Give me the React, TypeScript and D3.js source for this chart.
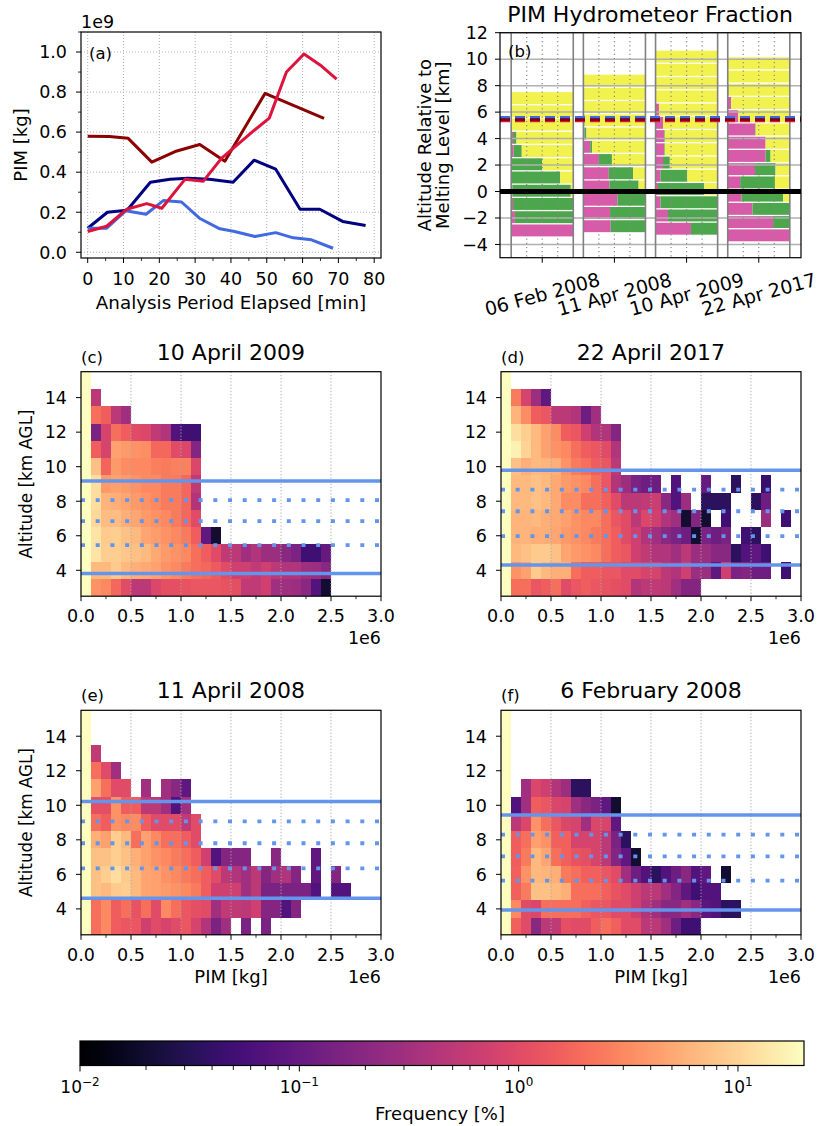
import React, { useEffect, useRef } from "react";
import * as d3 from "d3";

const FONT = "'DejaVu Sans', Verdana, sans-serif";

// ---------------- (a) PIM time series ----------------
const darkRedMinutes = [0, 6, 11.3, 17.9, 24.4, 31.3, 38.3, 49.5, 66];
const darkRedPim = [5.8e8, 5.78e8, 5.69e8, 4.5e8, 5.03e8, 5.38e8, 4.55e8, 7.93e8, 6.69e8];
const crimsonMinutes = [0, 5.3, 10.9, 16.5, 20.7, 27.2, 32.3, 37.4, 40.7, 46.7, 50.7, 55.5, 60.4, 65.3, 69.5];
const crimsonPim = [1.04e8, 1.3e8, 2.15e8, 2.43e8, 2.2e8, 3.65e8, 3.55e8, 4.7e8, 5.2e8, 6.12e8, 6.7e8, 9.0e8, 9.9e8, 9.3e8, 8.65e8];
const navyMinutes = [0, 5.5, 11, 17.5, 23, 28, 34, 40.6, 46.5, 52.5, 59.3, 64.8, 71.2, 77.6];
const navyPim = [1.2e8, 2.0e8, 2.1e8, 3.5e8, 3.65e8, 3.7e8, 3.65e8, 3.5e8, 4.6e8, 4.15e8, 2.15e8, 2.15e8, 1.54e8, 1.34e8];
const royalMinutes = [0, 5.3, 10.6, 16.3, 21.1, 26.2, 31.2, 36.9, 40.7, 46.7, 52.5, 57.4, 62.5, 68.5];
const royalPim = [1.2e8, 1.2e8, 2.07e8, 1.9e8, 2.58e8, 2.51e8, 1.7e8, 1.17e8, 1.05e8, 0.79e8, 0.98e8, 0.72e8, 0.62e8, 0.2e8];

// ---------------- (b) hydrometeor fraction ----------------
const caseLabels = ["06 Feb 2008", "11 Apr 2008", "10 Apr 2009", "22 Apr 2017"];
const meltingLevelKm = [3.94, 4.62, 3.81, 4.31];
const firstBinKm = [1, 2, 1, 1];
const freezeLevelRelKm = [5.52, 5.62, 5.33, 5.42];
const caseColors = ["#000080", "#4169e1", "#dc143c", "#8b0000"];
const pinkFeb08 = [1.0, 0.06, 0.03, 0.02, 0, 0, 0.04, 0.03, 0, 0, 0];
const greenFeb08 = [0, 0.94, 0.97, 0.94, 0.79, 0.5, 0.13, 0.055, 0, 0, 0];
const pinkApr08 = [0.44, 0.43, 0.55, 0.42, 0.41, 0.25, 0.11, 0.02, 0.01, 0, 0, 0];
const greenApr08 = [0.56, 0.57, 0.45, 0.47, 0.39, 0.21, 0.03, 0.03, 0.01, 0, 0, 0];
const pinkApr09 = [0.57, 0.2, 0.08, 0.04, 0.08, 0.12, 0.14, 0.14, 0.12, 0.055, 0.01, 0, 0, 0];
const greenApr09 = [0.43, 0.8, 0.92, 0.74, 0.43, 0.11, 0.01, 0.01, 0, 0, 0, 0, 0, 0];
const pinkApr17 = [1.0, 0.73, 0.4, 0.22, 0.2, 0.44, 0.61, 0.61, 0.44, 0.17, 0.055, 0, 0, 0];
const greenApr17 = [0, 0.27, 0.6, 0.67, 0.56, 0.33, 0.08, 0, 0.01, 0, 0, 0.015, 0, 0];

// ---------------- (c)-(f) frequency [%] rows, km 3..15, columns of 0.1e6 kg ----------------
const freqApr09 = [
  [40, 3.5, 3, 1.8, 1.0, 0.5, 0.5, 0.9, 1.1, 1.1, 1.2, 1.3, 1.3, 1.3, 1.2, 1.1, 0.55, 0.55, 0.7, 0.3, 0.3, 0.28, 0.2, 0.07, 0.02],
  [40, 6.5, 6.5, 8.5, 6.5, 5.5, 5, 4.5, 3.5, 3, 2.5, 2, 1.8, 1.4, 1.0, 0.7, 0.7, 0.55, 0.7, 0.5, 0.42, 0.4, 0.3, 0.28, 0.2],
  [40, 13, 9, 9, 8, 7.5, 6.5, 5, 4, 3.5, 3, 2, 1.5, 1.0, 0.55, 0.5, 0.3, 0.4, 0.28, 0.28, 0.2, 0.15, 0.05, 0.05, 0.1],
  [40, 13, 8.5, 9, 7.5, 6.5, 4.8, 4.2, 3.5, 3, 2.5, 1.5, 0.09, 0.02],
  [40, 11, 7, 7, 5.5, 4.8, 4, 3.5, 3, 2.5, 1.8, 1.0],
  [40, 12, 6, 5.5, 4.7, 4, 3.5, 3, 2.5, 2.5, 1.8, 0.42],
  [40, 12, 4, 4.5, 4, 3.5, 3, 3, 2.5, 2.5, 1.8, 0.55],
  [40, 7.5, 1.7, 4, 3.2, 3, 3, 2.6, 2.5, 2.7, 2.7, 0.9],
  [40, 1.5, 0.8, 4.5, 4, 3.5, 3.3, 1.8, 1.8, 1.0, 0.9, 0.18],
  [40, 0.15, 0.8, 2, 1.5, 1.0, 0.9, 0.55, 0.4, 0.07, 0.05, 0.05],
  [40, 2, 1.5, 0.5, 0.3],
  [40, 0.5],
  [40],
];
const freqApr17 = [
  [40, 2, 2, 1.3, 1.5, 2, 1.0, 1.3, 1.5, 1.3, 1.2, 1.1, 1.0, 0.42, 0.5, 0.55, 0.5, 0.3, 0.18, 0.18],
  [40, 3.5, 4.5, 8.5, 6.5, 5.5, 5.5, 2, 1.5, 1.5, 1.3, 1.3, 1.0, 1.0, 0.8, 0.8, 0.5, 0.42, 0.7, 0.28, 0.28, 0.09, 0.7, 0.15, 0.18, 0.12, 0.12, 0, 0.05],
  [40, 6.5, 7.5, 8.5, 8.5, 7.5, 4.7, 4, 3.5, 3, 2, 1.5, 1.3, 0.7, 0.55, 0.4, 0.4, 0.3, 0.5, 0.28, 0.28, 0.2, 0.2, 0.035, 0.07, 0.09, 0.05],
  [40, 6, 6, 5.5, 5.5, 4.7, 4, 3.5, 3, 2.5, 2, 1.5, 1.0, 0.7, 0.4, 0.3, 0.2, 0.15, 0.12, 0.02, 0.15, 0.12, 0.15, 0, 0.05, 0.035],
  [40, 6, 6, 6.5, 5.5, 5, 4.5, 3.5, 3, 3, 2, 1.3, 1.0, 0.5, 0.9, 0.7, 0.42, 0.3, 0.02, 0.18, 0.02, 0, 0.05, 0, 0, 0, 0.28, 0, 0.05],
  [40, 6.5, 6.5, 7.5, 6.5, 5, 3.2, 3.2, 2, 2, 1.6, 1.0, 0.5, 0.5, 0.55, 0.65, 0.2, 0.07, 0.28, 0, 0.035, 0.035, 0.035, 0, 0, 0.035, 0.12],
  [40, 6.5, 6.5, 7.5, 6.5, 5, 4, 3.5, 3, 2, 1.3, 0.42, 0.28, 0.15, 0.12, 0.12, 0, 0.07, 0, 0, 0.1, 0, 0, 0.035, 0, 0, 0.045],
  [40, 7.5, 5.5, 6.5, 6, 5.5, 3.5, 2.5, 2, 1.5, 1.3, 0.5],
  [40, 16, 10, 6.5, 4.5, 3.5, 3, 2, 1.5, 1.3, 1.0, 0.4],
  [40, 12, 9, 6.5, 4.5, 3.2, 1.5, 1.3, 0.7, 0.42, 0.4, 0.18],
  [40, 6, 3.2, 1.5, 1.3, 0.5, 0.5, 0.4, 0.12, 0.3],
  [40, 2.5, 0.8, 0.28, 0.09],
  [40],
];
const freqApr08 = [
  [40, 2, 3, 1.5, 1.3, 1.3, 0.7, 1.0, 0.8, 1.0, 1.3, 0.8, 0.42, 0.15, 0.3, 0, 0.15, 0, 0.15],
  [40, 2, 3, 1.5, 2, 1.2, 2, 1.0, 3, 2, 1.3, 1.1, 1.0, 0.3, 0.55, 0.55, 0.5, 0.7, 0.18, 0.18, 0.07, 0.18],
  [40, 7.5, 6.5, 8.5, 9, 6.5, 4.7, 4.5, 4, 3.5, 3, 2.5, 1.5, 0.7, 0.7, 0.7, 0.3, 0.5, 0.15, 0.15, 0.15, 0.15, 0.15, 0.07, 0, 0.07, 0.07],
  [40, 7.5, 9, 12, 8.5, 6.5, 4.7, 4.5, 3.5, 3, 2.5, 2, 1.5, 1.0, 0.5, 0.42, 0.3, 0.5, 0.18, 0.3, 0.4, 0.18, 0, 0.09, 0, 0.18],
  [40, 7.5, 7.5, 9, 7.5, 5.5, 4.5, 3.5, 3, 2.5, 2, 1.5, 0.7, 0.07, 0.18, 0.18, 0.18, 0, 0, 0.2, 0, 0, 0, 0.09],
  [40, 5.5, 4.5, 9, 6.5, 2, 4.5, 3, 2, 2, 1.5, 1.0],
  [40, 2, 1.5, 3.5, 3, 3.2, 1.5, 1.0, 1.0, 1.0, 0.55, 1.0],
  [40, 1.1, 1.1, 3.5, 1.5, 1.5, 0.5, 0.5, 0.3, 0.07, 0.3],
  [40, 4.5, 2, 1.0, 1.0, 0, 0.3, 0, 0.3, 0.2, 0.09],
  [40, 2, 1.0, 0.3],
  [40, 0.55],
  [40],
  [40],
];
const freqFeb08 = [
  [40, 1.6, 1.0, 0.2, 0.5, 0.55, 1.1, 1.0, 1.0, 1.5, 2, 1.6, 1.0, 1.0, 0.5, 0.5, 0.3, 0.12, 0.05, 0.05],
  [40, 3, 1.0, 0.9, 2, 2, 2, 2, 1.6, 1.3, 1.3, 1.0, 1.0, 0.7, 0.42, 0.3, 0.2, 0.2, 0.3, 0.2, 0.08, 0.07, 0.035, 0.035],
  [40, 1.6, 2.5, 7.5, 7.5, 6.5, 5.5, 2, 2, 2, 1.6, 1.2, 1.0, 0.7, 0.5, 0.5, 0.3, 0.18, 0.09, 0.05, 0.07, 0.07],
  [40, 1.6, 3.5, 6.5, 6, 5.5, 2.5, 2, 1.6, 1.6, 1.3, 1.0, 0.3, 0.12, 0.07, 0.035, 0.07, 0.12, 0.2, 0.07, 0.09, 0, 0.02],
  [40, 1.5, 2.5, 6.5, 4.7, 2, 1.6, 1.2, 1.1, 0.8, 0.5, 0.18, 0.09, 0.02],
  [40, 1.5, 2, 4.5, 3.5, 1.6, 1.6, 0.8, 0.8, 0.8, 0.5, 0.15, 0.035],
  [40, 0.5, 0.9, 3.5, 2, 1.3, 0.9, 0.8, 0.3, 0.9, 0.85, 0.09],
  [40, 0.07, 0.3, 1.5, 1.3, 0.9, 0.8, 0.3, 0.2, 0.15, 0.09, 0.02],
  [40, 0, 0.3, 0.9, 0.7, 0.42, 0.28, 0.035, 0.035],
  [40],
  [40],
  [40],
  [40],
];
const heatTitles = ["10 April 2009", "22 April 2017", "11 April 2008", "6 February 2008"];
const heatLetters = ["(c)", "(d)", "(e)", "(f)"];
const solidLevelsKm = [[3.81, 9.17], [4.31, 9.79], [4.62, 10.22], [3.94, 9.43]];
const dottedLevelsKm = [[5.46, 6.85, 8.06], [5.98, 7.42, 8.67], [6.35, 7.8, 9.07], [5.64, 7.04, 8.3]];
const heatXTicks = [0, 0.5e6, 1e6, 1.5e6, 2e6, 2.5e6, 3e6];
const heatYTicks = [4, 6, 8, 10, 12, 14];
const cbMajor = [0.01, 0.1, 1, 10];
const cbExponents = ["−2", "−1", "0", "1"];

const VMIN = 0.01, VMAX = 20;
const TICK_FS = 17.5;
function magmaColor(v: number) {
  const t = (Math.log10(v) - Math.log10(VMIN)) / (Math.log10(VMAX) - Math.log10(VMIN));
  return d3.interpolateMagma(Math.max(0, Math.min(1, t)));
}

function txt(g: any, x: number, y: number, s: string, size: number, anchor = "start") {
  return g.append("text").attr("x", x).attr("y", y).attr("font-family", FONT)
    .attr("font-size", size).attr("text-anchor", anchor).attr("fill", "#000").text(s);
}
function ln(g: any, x1: number, y1: number, x2: number, y2: number, stroke: string, w: number, dash?: string) {
  const l = g.append("line").attr("x1", x1).attr("y1", y1).attr("x2", x2).attr("y2", y2)
    .attr("stroke", stroke).attr("stroke-width", w);
  if (dash) l.attr("stroke-dasharray", dash);
  return l;
}
function frame(g: any, x0: number, y0: number, x1: number, y1: number) {
  g.append("rect").attr("x", x0).attr("y", y0).attr("width", x1 - x0).attr("height", y1 - y0)
    .attr("fill", "none").attr("stroke", "#000").attr("stroke-width", 1.2);
}

function drawPanelA(svg: any) {
  const x0 = 81, x1 = 381, y0 = 32, y1 = 258;
  const x = d3.scaleLinear().domain([-1.87, 81.9]).range([x0, x1]);
  const y = d3.scaleLinear().domain([-0.0286e9, 1.1e9]).range([y1, y0]);
  const g = svg.append("g");
  const xt = d3.range(0, 81, 10);
  const xtm = d3.range(5, 80, 10);
  const yt = d3.range(0, 6).map((i) => i * 0.2e9);
  const ytm = d3.range(0, 6).map((i) => (i * 0.2 + 0.1) * 1e9);
  xt.forEach((v) => ln(g, x(v), y0, x(v), y1, "#b0b0b0", 1, "1,2"));
  yt.forEach((v) => ln(g, x0, y(v), x1, y(v), "#b0b0b0", 1, "1,2"));
  const series = [
    { t: darkRedMinutes, v: darkRedPim, c: "#8b0000" },
    { t: navyMinutes, v: navyPim, c: "#000080" },
    { t: royalMinutes, v: royalPim, c: "#4169e1" },
    { t: crimsonMinutes, v: crimsonPim, c: "#dc143c" },
  ];
  series.forEach((s) => {
    const line = d3.line<number>().x((d, i) => x(s.t[i])).y((d) => y(d));
    g.append("path").attr("d", line(s.v)).attr("fill", "none").attr("stroke", s.c)
      .attr("stroke-width", 3).attr("stroke-linejoin", "round");
  });
  frame(g, x0, y0, x1, y1);
  xt.forEach((v) => {
    ln(g, x(v), y1, x(v), y1 + 5, "#000", 1);
    txt(g, x(v), y1 + 27, String(v), TICK_FS, "middle");
  });
  xtm.forEach((v) => ln(g, x(v), y1, x(v), y1 + 3, "#000", 0.8));
  yt.forEach((v) => {
    ln(g, x0 - 5, y(v), x0, y(v), "#000", 1);
    txt(g, x0 - 14, y(v) + 6.3, (v / 1e9).toFixed(1), TICK_FS, "end");
  });
  ytm.forEach((v) => ln(g, x0 - 3, y(v), x0, y(v), "#000", 0.8));
  txt(g, x0, 28, "1e9", TICK_FS);
  txt(g, 89, 59, "(a)", 16.5);
  txt(g, (x0 + x1) / 2, 309, "Analysis Period Elapsed [min]", 18.3, "middle");
  txt(g, 0, 0, "PIM [kg]", 18, "middle").attr("transform", `translate(27,${(y0 + y1) / 2}) rotate(-90)`);
}

function drawPanelB(svg: any) {
  const x0 = 500, x1 = 801, y0 = 32.7, y1 = 257.7;
  const x = d3.scaleLinear().domain([-0.585, 3.585]).range([x0, x1]);
  const y = d3.scaleLinear().domain([-5, 12]).range([y1, y0]);
  const g = svg.append("g");
  const half = 0.43;
  const pinks = [pinkFeb08, pinkApr08, pinkApr09, pinkApr17];
  const greens = [greenFeb08, greenApr08, greenApr09, greenApr17];
  const colP = "#d75ba9", colG = "#4ca64c", colY = "#f2f24f";
  pinks.forEach((pk, i) => {
    const fx = d3.scaleLinear().domain([0, 1]).range([x(i - half), x(i + half)]);
    pk.forEach((p, j) => {
      const gr = greens[i][j];
      const c = firstBinKm[i] + j - meltingLevelKm[i];
      const yt = y(c + 0.45), h = y(c - 0.45) - y(c + 0.45);
      const segs: [number, number, string][] = [[0, p, colP], [p, p + gr, colG], [p + gr, 1, colY]];
      segs.forEach(([a, b, col]) => {
        if (b - a < 0.001) return;
        g.append("rect").attr("x", fx(a)).attr("y", yt).attr("width", fx(b) - fx(a)).attr("height", h).attr("fill", col);
      });
    });
  });
  const yt = d3.range(-4, 13, 2);
  yt.forEach((v) => ln(g, x0, y(v), x1, y(v), "#b0b0b0", 1.5));
  caseLabels.forEach((_, i) => {
    const fx = d3.scaleLinear().domain([0, 1]).range([x(i - half), x(i + half)]);
    [0.25, 0.5, 0.75].forEach((f) => ln(g, fx(f), y0, fx(f), y1, "#8a8a8a", 1.2, "1.2,3"));
    [0, 1].forEach((f) => ln(g, fx(f), y0, fx(f), y1, "#808080", 1.6));
  });
  freezeLevelRelKm.forEach((lv, i) => ln(g, x0, y(lv), x1, y(lv), caseColors[i], 2.5, "10,5"));
  ln(g, x0, y(0), x1, y(0), "#000", 5);
  frame(g, x0, y0, x1, y1);
  yt.forEach((v) => {
    ln(g, x0 - 5, y(v), x0, y(v), "#000", 1);
    txt(g, x0 - 12, y(v) + 6.3, v < 0 ? "−" + Math.abs(v) : String(v), TICK_FS, "end");
  });
  caseLabels.forEach((lab, i) => {
    ln(g, x(i), y1, x(i), y1 + 5, "#000", 1);
    txt(g, 0, 0, lab, 19, "middle").attr("dominant-baseline", "central")
      .attr("transform", `translate(${x(i)},294) rotate(-15)`);
  });
  txt(g, 508, 57, "(b)", 16.5);
  txt(g, 650, 22, "PIM Hydrometeor Fraction", 22, "middle");
  const cy = (y0 + y1) / 2;
  txt(g, 0, 0, "Altitude Relative to", 18, "middle").attr("transform", `translate(431,${cy}) rotate(-90)`);
  txt(g, 0, 0, "Melting Level [km]", 18, "middle").attr("transform", `translate(449,${cy}) rotate(-90)`);
}

function drawHeat(svg: any, idx: number, rows: number[][], x0: number, y0: number, yLabel: boolean, xLabel: boolean) {
  const x1 = x0 + 300, y1 = y0 + 224.5;
  const x = d3.scaleLinear().domain([0, 3e6]).range([x0, x1]);
  const y = d3.scaleLinear().domain([2.5, 15.5]).range([y1, y0]);
  const g = svg.append("g");
  rows.forEach((row, ri) => {
    const km = 3 + ri;
    row.forEach((v, ci) => {
      if (!v) return;
      g.append("rect").attr("x", x(ci * 1e5)).attr("y", y(km + 0.5))
        .attr("width", x((ci + 1) * 1e5) - x(ci * 1e5)).attr("height", y(km - 0.5) - y(km + 0.5))
        .attr("fill", magmaColor(v)).attr("shape-rendering", "crispEdges");
    });
  });
  heatXTicks.slice(1, -1).forEach((v) => ln(g, x(v), y0, x(v), y1, "#a8a8a8", 1, "1.2,2"));
  solidLevelsKm[idx].forEach((lv) => ln(g, x0, y(lv), x1, y(lv), "#6495ed", 3.5));
  dottedLevelsKm[idx].forEach((lv) => ln(g, x0, y(lv), x1, y(lv), "#6495ed", 3.8, "4,10.7"));
  frame(g, x0, y0, x1, y1);
  heatXTicks.forEach((v) => {
    ln(g, x(v), y1, x(v), y1 + 5, "#000", 1);
    txt(g, x(v), y1 + 26, (v / 1e6).toFixed(1), TICK_FS, "middle");
  });
  heatXTicks.slice(0, -1).forEach((v) => ln(g, x(v + 0.25e6), y1, x(v + 0.25e6), y1 + 3, "#000", 0.8));
  heatYTicks.forEach((v) => {
    ln(g, x0 - 5, y(v), x0, y(v), "#000", 1);
    txt(g, x0 - 14, y(v) + 6.3, String(v), TICK_FS, "end");
  });
  txt(g, x1, y1 + 48, "1e6", TICK_FS, "end");
  txt(g, x0, y0 - 9, heatLetters[idx], 16.5);
  txt(g, (x0 + x1) / 2, y0 - 12, heatTitles[idx], 22, "middle");
  if (yLabel) txt(g, 0, 0, "Altitude [km AGL]", 16.8, "middle").attr("transform", `translate(32,${(y0 + y1) / 2}) rotate(-90)`);
  if (xLabel) txt(g, (x0 + x1) / 2, y1 + 48, "PIM [kg]", 18, "middle");
}

function drawColorbar(svg: any) {
  const x0 = 80, x1 = 804, y0 = 1041, y1 = 1065.5;
  const x = d3.scaleLog().domain([VMIN, VMAX]).range([x0, x1]);
  const defs = svg.append("defs");
  const grad = defs.append("linearGradient").attr("id", "magmaGrad").attr("x1", "0%").attr("x2", "100%").attr("y1", "0%").attr("y2", "0%");
  d3.range(0, 101).forEach((i) => grad.append("stop").attr("offset", `${i}%`).attr("stop-color", d3.interpolateMagma(i / 100)));
  const g = svg.append("g");
  g.append("rect").attr("x", x0).attr("y", y0).attr("width", x1 - x0).attr("height", y1 - y0).attr("fill", "url(#magmaGrad)");
  frame(g, x0, y0, x1, y1);
  cbMajor.forEach((v, i) => {
    ln(g, x(v), y1, x(v), y1 + 6, "#000", 1);
    const t = txt(g, x(v), 1093, "", 17, "middle");
    t.append("tspan").text("10");
    t.append("tspan").attr("dy", -7.5).attr("font-size", 12).text(cbExponents[i]);
  });
  cbMajor.forEach((d) => d3.range(2, 10).forEach((m) => {
    const v = m * d;
    if (v < VMAX) ln(g, x(v), y1, x(v), y1 + 4.5, "#000", 0.9);
  }));
  txt(g, 440, 1120, "Frequency [%]", 18, "middle");
}

export default function App() {
  const ref = useRef<SVGSVGElement | null>(null);
  useEffect(() => {
    if (!ref.current) return;
    const svg = d3.select(ref.current);
    svg.selectAll("*").remove();
    svg.append("rect").attr("width", 817).attr("height", 1126).attr("fill", "#fff");
    drawPanelA(svg);
    drawPanelB(svg);
    drawHeat(svg, 0, freqApr09, 81, 371.7, true, false);
    drawHeat(svg, 1, freqApr17, 501, 371.7, false, false);
    drawHeat(svg, 2, freqApr08, 81, 710.3, true, true);
    drawHeat(svg, 3, freqFeb08, 501, 710.3, false, true);
    drawColorbar(svg);
  }, []);
  return <svg ref={ref} width={817} height={1126} style={{ position: "absolute", left: 0, top: 0 }} />;
}
